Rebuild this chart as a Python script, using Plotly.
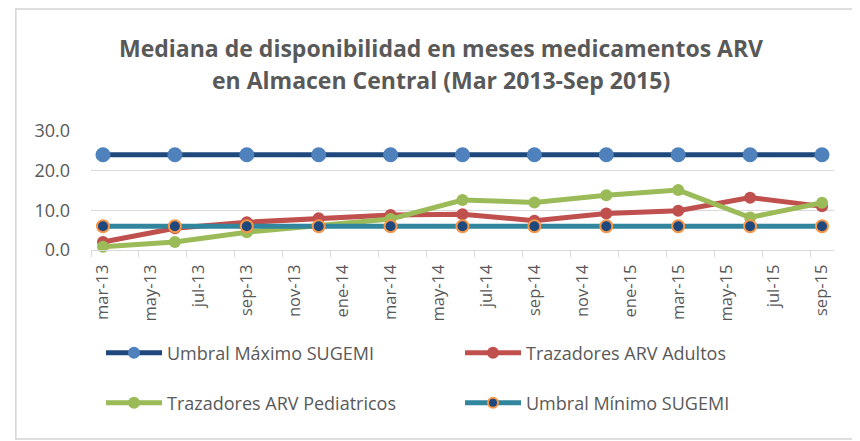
import plotly.graph_objects as go

# ---------------- data ----------------
dates = ["2013-03", "2013-06", "2013-09", "2013-12", "2014-03", "2014-06",
         "2014-09", "2014-12", "2015-03", "2015-06", "2015-09"]
umbral_max = [24, 24, 24, 24, 24, 24, 24, 24, 24, 24, 24]
adultos = [2.0, 5.5, 7.0, 8.0, 8.8, 9.0, 7.4, 9.2, 9.9, 13.2, 11.0]
pediatricos = [0.8, 2.0, 4.5, 6.0, 7.8, 12.6, 12.0, 13.8, 15.1, 8.2, 11.9]
umbral_min = [6, 6, 6, 6, 6, 6, 6, 6, 6, 6, 6]

tick_labels = ["mar-13", "may-13", "jul-13", "sep-13", "nov-13", "ene-14",
               "mar-14", "may-14", "jul-14", "sep-14", "nov-14", "ene-15",
               "mar-15", "may-15", "jul-15", "sep-15"]
y_ticks = [0, 10, 20, 30]

series_names = ["Umbral Máximo SUGEMI", "Trazadores ARV Adultos",
                "Trazadores ARV Pediatricos", "Umbral Mínimo SUGEMI"]


def month_index(d):
    y, m = d.split("-")
    return (int(y) - 2013) * 12 + int(m) - 3


x = [month_index(d) for d in dates]
n_months = month_index("2015-09") + 1
tick_positions = list(range(0, n_months, 2))
boundary_ticks = [p - 0.5 for p in tick_positions]

# ---------------- layout constants ----------------
W, H = 860, 441
OFF = 8  # page body margin: figure pixel = screen pixel - OFF
L, R, T, B = 82.7, 34, 122.7, 199
GRAY = "#595959"
GRID = "#D9D9D9"
FONT = "Open Sans"


def px_x(p):  # screen px -> paper fraction
    return (p - OFF - L) / (W - L - R)


def px_y(p):
    return (H - B - (p - OFF)) / (H - T - B)


fig = go.Figure()

styles = [
    dict(line=dict(color="#1F497D", width=5),
         marker=dict(color="#4F81BD", size=15), leg_marker=dict(color="#4F81BD", size=12)),
    dict(line=dict(color="#C0504D", width=5),
         marker=dict(color="#C0504D", size=12), leg_marker=dict(color="#C0504D", size=12)),
    dict(line=dict(color="#9BBB59", width=5),
         marker=dict(color="#9BBB59", size=12), leg_marker=dict(color="#9BBB59", size=12)),
    dict(line=dict(color="#31859C", width=5),
         marker=dict(color="#1F497D", size=12, line=dict(color="#F79646", width=2)),
         leg_marker=dict(color="#1F497D", size=10, line=dict(color="#F79646", width=2))),
]
legend_ids = ["legend", "legend2", "legend3", "legend4"]
for name, vals, st in zip(series_names,
                          [umbral_max, adultos, pediatricos, umbral_min],
                          styles):
    fig.add_trace(go.Scatter(x=x, y=vals, name=name, mode="lines+markers",
                             line=st["line"], marker=st["marker"],
                             showlegend=False, cliponaxis=False))
# legend entries (no data drawn)
for name, st, lg in zip(series_names, styles, legend_ids):
    fig.add_trace(go.Scatter(x=[None], y=[None], name=name, mode="lines+markers",
                             line=st["line"], marker=st["leg_marker"],
                             legend=lg, showlegend=True))

# legends placed individually (2 x 2 grid), screen coords of text start / centre
leg_pos = {"legend": (167, 353), "legend2": (526, 353),
           "legend3": (167, 403), "legend4": (526, 403)}
ITEMW = 56
leg_layout = {}
for k, (px, py) in leg_pos.items():
    leg_layout[k] = dict(xref="container", yref="container",
                         x=(px - OFF - (ITEMW + 10)) / W, y=1 - (py - OFF) / H,
                         xanchor="left", yanchor="middle", itemwidth=ITEMW,
                         bgcolor="rgba(0,0,0,0)",
                         font=dict(family=FONT, size=18, color=GRAY))

shapes = [
    dict(type="rect", xref="paper", yref="paper",
         x0=px_x(15.5), x1=px_x(875), y0=px_y(439.5), y1=px_y(8.5),
         line=dict(color="#D4D4D4", width=1.5), fillcolor="rgba(0,0,0,0)",
         layer="below"),
]

annotations = [
    dict(text="<b>Mediana de disponibilidad en meses medicamentos ARV</b>",
         xref="paper", yref="paper", x=px_x(441), y=px_y(47),
         xanchor="center", yanchor="middle", showarrow=False,
         font=dict(family=FONT, size=23, color=GRAY)),
    dict(text="<b>en Almacen Central (Mar 2013-Sep 2015)</b>",
         xref="paper", yref="paper", x=px_x(441), y=px_y(80),
         xanchor="center", yanchor="middle", showarrow=False,
         font=dict(family=FONT, size=23, color=GRAY)),
]

fig.update_layout(
    width=W, height=H,
    margin=dict(l=L, r=R, t=T, b=B, autoexpand=False),
    paper_bgcolor="white", plot_bgcolor="white",
    font=dict(family=FONT, color=GRAY),
    showlegend=True,
    shapes=shapes,
    annotations=annotations,
    xaxis=dict(range=[-0.5, n_months - 0.5], tickmode="array",
               tickvals=tick_positions, ticktext=tick_labels,
               tickangle=-90, ticks="", showgrid=False, zeroline=False,
               showline=True, linecolor=GRID, linewidth=1,
               tickfont=dict(family=FONT, size=16.5, color=GRAY),
               ticklabelstandoff=7, automargin=False,
               minor=dict(tickmode="array", tickvals=boundary_ticks,
                          ticks="outside", ticklen=6, tickcolor=GRID,
                          tickwidth=1, showgrid=False)),
    yaxis=dict(range=[0, 30], tickmode="array", tickvals=y_ticks,
               tickformat=".1f", ticks="", showgrid=True, gridcolor=GRID,
               gridwidth=1, zeroline=False, showline=False, automargin=False,
               tickfont=dict(family=FONT, size=18, color=GRAY),
               ticklabelstandoff=20),
    **leg_layout,
)

fig.write_html("out.html")
